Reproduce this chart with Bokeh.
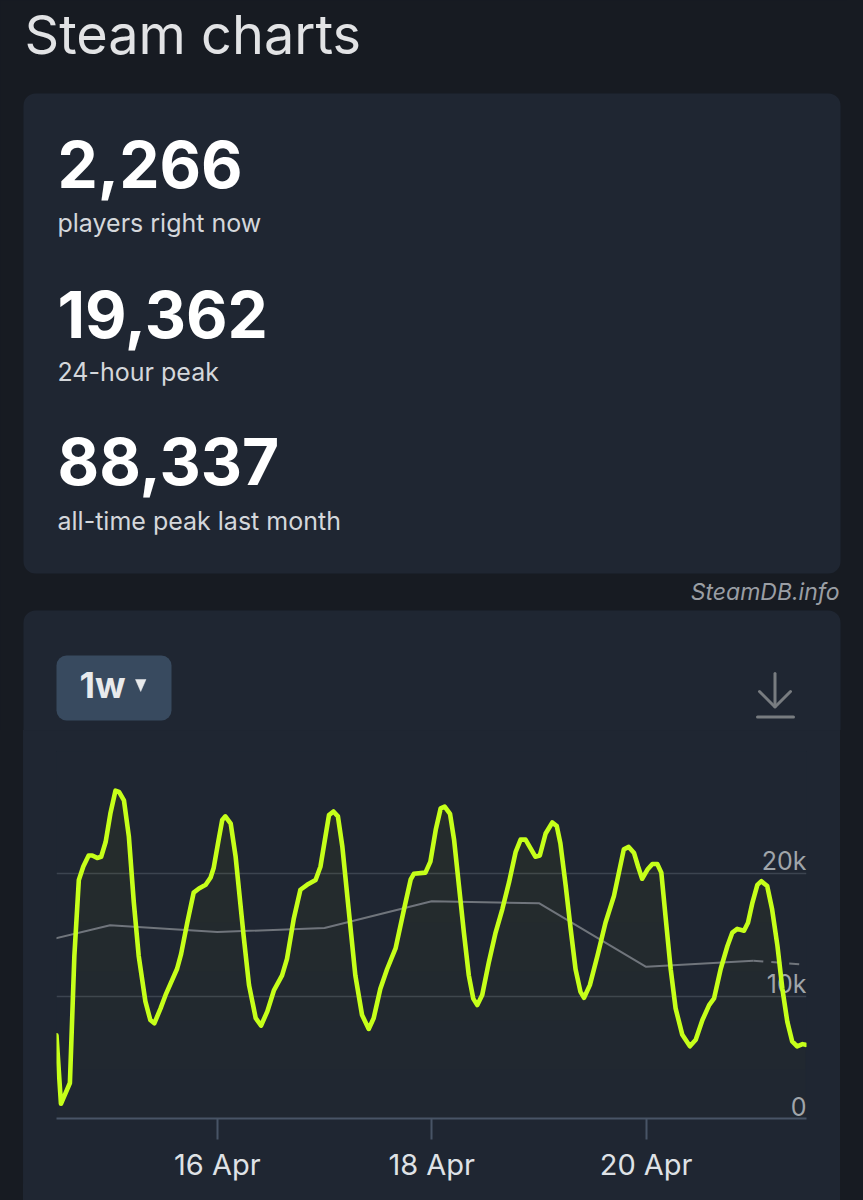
from datetime import datetime, timedelta

from bokeh.plotting import figure
from bokeh.models import Range1d, BoxAnnotation, FixedTicker, DatetimeTickFormatter, Spacer
from bokeh.layouts import column, row
from bokeh.core.properties import value
from bokeh.embed import file_html
from bokeh.resources import INLINE

# ---------------- data ----------------
start_time = datetime(2025, 4, 14, 12, 0)
window_hours = 167.9

hours = [
    0, 1, 3, 4, 5, 6, 7.2, 8, 9.1, 10,
    11, 12.1, 13.2, 14, 15.1, 16.2, 17.3, 18.4, 19.9, 21,
    21.9, 23.3, 24.4, 27, 27.9, 29.3, 30.7, 31.9, 33.4, 34.5,
    35.2, 36.3, 37.1, 37.8, 39, 40.1, 41.9, 43.1, 44.6, 45.8,
    47.2, 48.7, 50.5, 51.6, 53.1, 54.6, 56.1, 58, 59.1, 60.2,
    61, 62, 63, 64, 65.4, 66.9, 68.4, 69.9, 71, 72.5,
    74, 75.9, 77.8, 79.3, 80, 82.6, 83.7, 84.9, 86, 86.9,
    88.1, 89, 90.1, 91.2, 92.3, 93.3, 94.2, 95.3, 96.8, 98.3,
    99.8, 101.3, 102.8, 103.9, 105, 106.1, 107.2, 108.2, 109.5, 111,
    112, 112.8, 114, 115.1, 116.2, 117.3, 118.1, 119.4, 121.1, 122.9,
    124.8, 125.9, 127, 128.1, 129.3, 130.2, 131.1, 132.3, 133.4, 134.5,
    135.4, 136.4, 137.5, 138.6, 140.1, 141.8, 143.1, 144.6, 146.1, 147.2,
    148.7, 150.2, 151.3, 152.4, 153.9, 154.8, 155.8, 156.9, 157.8, 159.1,
    160.2, 161.4, 162.5, 163.6, 164.7, 165.8, 167, 167.7,
]
players = [
    6800, 1200, 2900, 13300, 19500, 20600, 21500, 21500, 21300, 21400,
    22600, 25000, 26800, 26700, 26000, 23050, 17700, 13300, 9570, 8050,
    7780, 9000, 10080, 12240, 13460, 16050, 18460, 18800, 19100, 19700,
    20500, 22800, 24400, 24700, 24100, 21400, 14900, 10900, 8200, 7600,
    8760, 10500, 11700, 13050, 16300, 18700, 19100, 19500, 20600, 23050,
    24800, 25100, 24700, 22200, 17100, 11700, 8460, 7320, 8190, 10600,
    12200, 13900, 17100, 19550, 20000, 20100, 21000, 23600, 25350, 25500,
    24900, 22800, 19000, 15200, 11700, 9800, 9270, 10100, 12800, 15200,
    17100, 19300, 21800, 22800, 22800, 22100, 21400, 21500, 23300, 24200,
    23900, 22500, 19000, 15500, 12200, 10350, 9870, 10900, 13300, 16000,
    18200, 20100, 22000, 22200, 21700, 20600, 19600, 20350, 20800, 20800,
    20100, 16300, 12200, 9000, 6840, 5900, 6430, 8050, 9270, 9810,
    12240, 14100, 15200, 15500, 15350, 16000, 17650, 19100, 19400, 19000,
    17100, 14100, 10600, 7920, 6300, 5900, 6080, 6020,
]

avg_hours = [-12, 12, 36, 60, 84, 108, 132, 156]
avg_players = [13700, 15800, 15240, 15570, 17760, 17600, 12400, 12900]
proj_hours = [156, 167.9]
proj_players = [12900, 12570]

x_tick_dates = [datetime(2025, 4, 16), datetime(2025, 4, 18), datetime(2025, 4, 20)]
y_ticks = [0, 10000, 20000]
y_tick_labels = ["0", "10k", "20k"]
grid_values = [0, 10000, 20000, 30000]
fill_levels = [0, 4000, 8000, 12000, 16000, 20000, 24000]

stat_values = ["2,266", "19,362", "88,337"]
stat_labels = ["players right now", "24-hour peak", "all-time peak last month"]

# ---------------- style ----------------
PAGE = "#171b22"
CARD = "#1f2632"
BUTTON = "#384a5f"
LIME = "#c6ff1a"
GREY_LINE = "#70757c"
GRID = "#3c4450"
AXIS = "#485466"
FONT = "Inter"

# ---------------- top section (layout canvas in page pixels, y = -pixel) ----------------
top = figure(width=847, height=730, x_range=Range1d(0, 847), y_range=Range1d(-730, 0),
             toolbar_location=None, output_backend="svg", min_border=0,
             background_fill_color=PAGE, border_fill_color=PAGE, outline_line_color=None,
             x_axis_location=None, y_axis_location=None,
             styles={"background-color": PAGE})
top.grid.visible = False

top.add_layout(BoxAnnotation(left=23, right=840, top=-93, bottom=-573, fill_color=CARD, fill_alpha=1,
                             line_color=None, border_radius=12, level="underlay"))
top.add_layout(BoxAnnotation(left=23, right=840, top=-610, bottom=-790, fill_color=CARD, fill_alpha=1,
                             line_color=None, border_radius=12, level="underlay"))
top.add_layout(BoxAnnotation(left=56, right=171, top=-655, bottom=-720, fill_color=BUTTON, fill_alpha=1,
                             line_color=None, border_radius=10, level="underlay"))

top.text(x=[24], y=[-33.5], text=["Steam charts"], text_font=value(FONT), text_font_size="54px",
         text_color="#e2e3e5", text_baseline="alphabetic", text_align="left")

val_anchor = [-164, -313.5, -461]
lab_anchor = [-222.6, -371.1, -520.6]
top.text(x=[57, 57, 57], y=val_anchor, text=stat_values, text_font=value(FONT), text_font_size="64px",
         text_font_style="bold", text_color="#ffffff", text_baseline="alphabetic", text_align="left")
top.text(x=[57, 57, 57], y=lab_anchor, text=stat_labels, text_font=value(FONT), text_font_size="25px",
         text_color="#d4d7db", text_baseline="alphabetic", text_align="left")

top.text(x=[839], y=[-591.4], text=["SteamDB.info"], text_font=value(FONT), text_font_size="23px",
         text_font_style="italic", text_color="#9a9ea4", text_baseline="alphabetic", text_align="right")

top.text(x=[79], y=[-684], text=["1w"], text_font=value(FONT), text_font_size="36px",
         text_font_style="bold", text_color="#e8eaec", text_baseline="alphabetic", text_align="left")
top.patch(x=[135, 145.5, 140.2], y=[-679, -679, -691], fill_color="#e8eaec", line_color="#e8eaec", line_width=0.5)

top.multi_line(xs=[[774.5, 774.5], [759, 774.5, 790], [757, 793]],
               ys=[[-673, -706], [-691, -706.5, -691], [-716.5, -716.5]],
               line_color="#787c80", line_width=3, line_cap="round", line_join="round")

# ---------------- chart ----------------
times = [start_time + timedelta(hours=h) for h in hours]
avg_times = [start_time + timedelta(hours=h) for h in avg_hours]
proj_times = [start_time + timedelta(hours=h) for h in proj_hours]
x_end = start_time + timedelta(hours=window_hours)

chart = figure(width=817, height=454, x_axis_type="datetime",
               x_range=Range1d(start_time, x_end), y_range=Range1d(0, 30000),
               toolbar_location=None, output_backend="svg",
               min_border_left=33, min_border_right=34, min_border_top=21, min_border_bottom=63,
               background_fill_color=CARD, border_fill_color=CARD, outline_line_color=None,
               y_axis_location=None, styles={"background-color": CARD})

chart.xgrid.visible = False
chart.ygrid.ticker = FixedTicker(ticks=grid_values)
chart.ygrid.grid_line_color = GRID
chart.ygrid.grid_line_width = 1.6

epoch = datetime(1970, 1, 1)
chart.xaxis.ticker = FixedTicker(ticks=[(d - epoch).total_seconds() * 1000 for d in x_tick_dates])
chart.xaxis.formatter = DatetimeTickFormatter(days="%d %b", months="%d %b", hours="%d %b",
                                              hourmin="%d %b", context=None)
chart.xaxis.axis_line_color = AXIS
chart.xaxis.axis_line_width = 2
chart.xaxis.major_tick_line_color = AXIS
chart.xaxis.major_tick_line_width = 2
chart.xaxis.major_tick_out = 21
chart.xaxis.major_tick_in = 0
chart.xaxis.minor_tick_line_color = None
chart.xaxis.major_label_text_font = FONT
chart.xaxis.major_label_text_font_size = "29px"
chart.xaxis.major_label_text_color = "#dfe2e6"
chart.xaxis.major_label_standoff = 7

# gradient-like area fill under the player line
for lvl in fill_levels:
    chart.varea(x=times, y1=[lvl] * len(players), y2=[max(v, lvl) for v in players],
                fill_color=LIME, fill_alpha=0.008)

chart.text(x=[x_end] * len(y_ticks), y=y_ticks, text=y_tick_labels, text_font=value(FONT),
           text_font_size="25px", text_color="#a0a5aa", text_align="right",
           text_baseline="alphabetic", y_offset=-12.5)

chart.line(avg_times, avg_players, line_color=GREY_LINE, line_width=2)
chart.line(proj_times, proj_players, line_color=GREY_LINE, line_width=2, line_dash="10 8")
chart.line(times, players, line_color=LIME, line_width=4.6, line_join="round", line_cap="round")

layout = column(top, row(Spacer(width=23), chart), styles={"background-color": PAGE})

html = file_html(layout, INLINE)
css = (
    "<style>html { min-height: 100%%; background: "
    "linear-gradient(to right, %s 23px, %s 23px, %s 840px, %s 840px) left bottom / 100%% 30px no-repeat, %s; }"
    "</style>\n" % (PAGE, CARD, CARD, PAGE, PAGE)
)
idx = html.rfind("</head>")
if idx != -1:
    html = html[:idx] + css + html[idx:]
open("out.html", "w").write(html)
